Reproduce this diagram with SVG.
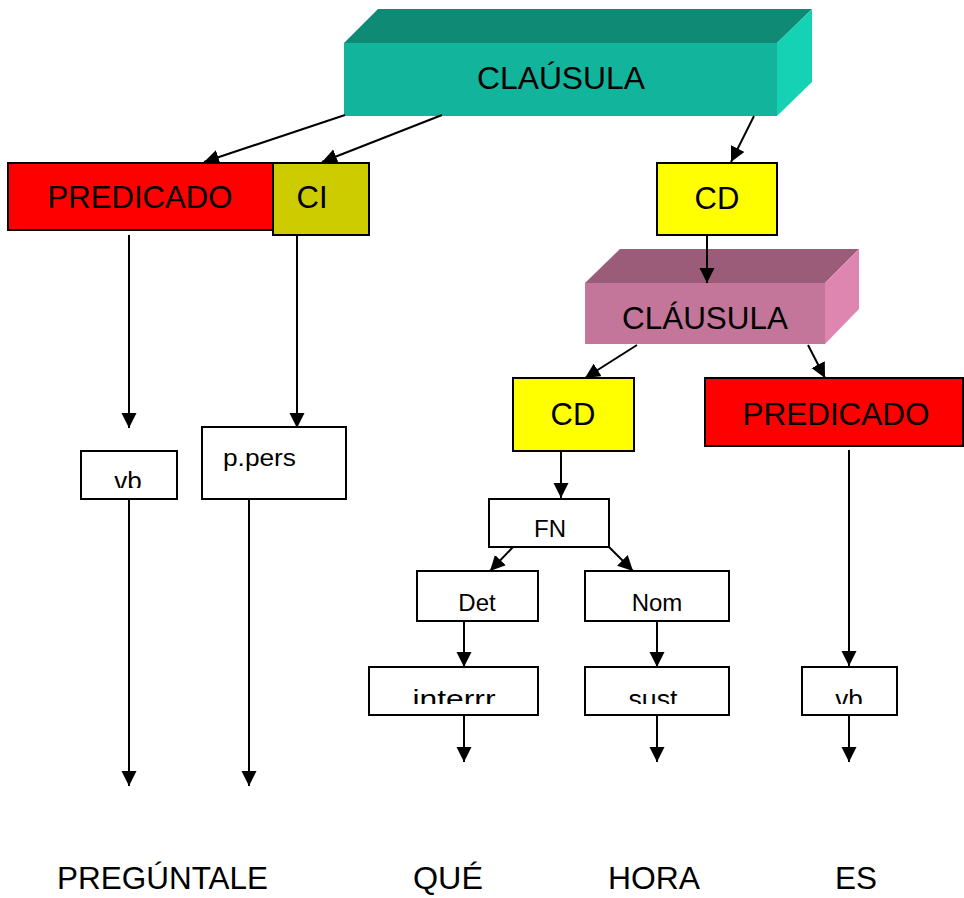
<svg xmlns="http://www.w3.org/2000/svg" width="964" height="898" viewBox="0 0 964 898">
<style>
text{font-family:"Liberation Sans","DejaVu Sans",sans-serif;fill:#000}
.big{font-size:31px}
.sm{font-size:24px}
.cl{font-size:26px}
.box{stroke:#000;stroke-width:2}
.w{fill:#fff}
.c{stroke:#000;stroke-width:2;fill:none;marker-end:url(#ah)}
</style>
<defs>
<marker id="ah" markerUnits="userSpaceOnUse" markerWidth="16" markerHeight="16" refX="15" refY="7.5" orient="auto">
<path d="M0,0 L15,7.5 L0,15 z" fill="#000"/>
</marker>
<clipPath id="cvb1"><rect x="81" y="451" width="96" height="37"/></clipPath>
<clipPath id="cint"><rect x="369" y="667" width="169" height="37"/></clipPath>
<clipPath id="csust"><rect x="585" y="667" width="144" height="37"/></clipPath>
<clipPath id="cvb2"><rect x="802" y="667" width="95" height="37"/></clipPath>
</defs>

<g id="clausula1">
<polygon points="344,43 378,9 812,9 777,43" fill="#0F8A74"/>
<polygon points="777,43 812,9 812,82 777,116" fill="#14D2B3"/>
<rect x="344" y="43" width="433" height="73" fill="#12B59C"/>
<text class="big" x="561" y="89" text-anchor="middle" textLength="168" lengthAdjust="spacingAndGlyphs">CLAÚSULA</text>
</g>

<g id="predicado1">
<rect class="box" x="8" y="163" width="265" height="67" fill="#FF0000"/>
<text class="big" x="140" y="208" text-anchor="middle" textLength="185" lengthAdjust="spacingAndGlyphs">PREDICADO</text>
</g>

<g id="ci">
<rect class="box" x="273" y="163" width="96" height="72" fill="#CCCC00"/>
<text class="big" x="312" y="208" text-anchor="middle">CI</text>
</g>

<g id="cd1">
<rect class="box" x="657" y="163" width="120" height="72" fill="#FFFF00"/>
<text class="big" x="717" y="209" text-anchor="middle">CD</text>
</g>

<g id="clausula2">
<polygon points="585,283 620,249 859,249 825,283" fill="#9B5C7A"/>
<polygon points="825,283 859,249 859,309 825,344" fill="#DF86B0"/>
<rect x="585" y="283" width="240" height="61" fill="#C4769A"/>
<text class="big" x="705" y="329" text-anchor="middle" textLength="166" lengthAdjust="spacingAndGlyphs">CLÁUSULA</text>
</g>

<g id="cd2">
<rect class="box" x="513" y="378" width="121" height="73" fill="#FFFF00"/>
<text class="big" x="573" y="425" text-anchor="middle">CD</text>
</g>

<g id="predicado2">
<rect class="box" x="705" y="378" width="258" height="68" fill="#FF0000"/>
<text class="big" x="836" y="425" text-anchor="middle" textLength="187" lengthAdjust="spacingAndGlyphs">PREDICADO</text>
</g>

<g id="vb1">
<rect class="box w" x="81" y="451" width="96" height="48"/>
<text class="cl" x="128" y="490" text-anchor="middle" clip-path="url(#cvb1)">vb</text>
</g>

<g id="ppers">
<rect class="box w" x="202" y="427" width="144" height="72"/>
<text class="sm" x="223" y="466" textLength="73" lengthAdjust="spacingAndGlyphs">p.pers</text>
</g>

<g id="fn">
<rect class="box w" x="489" y="499" width="120" height="48"/>
<text class="sm" x="550" y="537" text-anchor="middle">FN</text>
</g>

<g id="det">
<rect class="box w" x="417" y="571" width="121" height="50"/>
<text class="sm" x="477" y="611" text-anchor="middle">Det</text>
</g>

<g id="nom">
<rect class="box w" x="585" y="571" width="144" height="50"/>
<text class="sm" x="657" y="611" text-anchor="middle">Nom</text>
</g>

<g id="interrr">
<rect class="box w" x="369" y="667" width="169" height="48"/>
<text class="cl" x="454" y="708" text-anchor="middle" textLength="83" lengthAdjust="spacingAndGlyphs" clip-path="url(#cint)">interrr</text>
</g>

<g id="sust">
<rect class="box w" x="585" y="667" width="144" height="48"/>
<text class="cl" x="653" y="708" text-anchor="middle" textLength="49" lengthAdjust="spacingAndGlyphs" clip-path="url(#csust)">sust</text>
</g>

<g id="vb2">
<rect class="box w" x="802" y="667" width="95" height="48"/>
<text class="cl" x="849" y="708" text-anchor="middle" clip-path="url(#cvb2)">vb</text>
</g>

<g id="words">
<text class="big" x="57" y="889" textLength="211" lengthAdjust="spacingAndGlyphs">PREGÚNTALE</text>
<text class="big" x="413" y="889" textLength="70" lengthAdjust="spacingAndGlyphs">QUÉ</text>
<text class="big" x="608" y="889" textLength="92" lengthAdjust="spacingAndGlyphs">HORA</text>
<text class="big" x="835" y="889" textLength="42" lengthAdjust="spacingAndGlyphs">ES</text>
</g>

<g id="connectors">
<line class="c" x1="345" y1="115" x2="204" y2="162"/>
<line class="c" x1="442" y1="115" x2="322" y2="162"/>
<line class="c" x1="754" y1="116" x2="731" y2="162"/>
<line class="c" x1="129" y1="235" x2="129" y2="428"/>
<line class="c" x1="297" y1="235" x2="297" y2="428"/>
<line class="c" x1="129" y1="499" x2="129" y2="786"/>
<line class="c" x1="249" y1="499" x2="249" y2="786"/>
<line class="c" x1="707" y1="236" x2="707" y2="283"/>
<line class="c" x1="637" y1="345" x2="585" y2="378"/>
<line class="c" x1="808" y1="345" x2="825" y2="378"/>
<line class="c" x1="561" y1="451" x2="561" y2="498"/>
<line class="c" x1="849" y1="450" x2="849" y2="666"/>
<line class="c" x1="513" y1="547" x2="490" y2="571"/>
<line class="c" x1="609" y1="547" x2="633" y2="571"/>
<line class="c" x1="464" y1="621" x2="464" y2="667"/>
<line class="c" x1="657" y1="621" x2="657" y2="667"/>
<line class="c" x1="464" y1="715" x2="464" y2="762"/>
<line class="c" x1="657" y1="715" x2="657" y2="762"/>
<line class="c" x1="849" y1="715" x2="849" y2="762"/>
</g>
</svg>
